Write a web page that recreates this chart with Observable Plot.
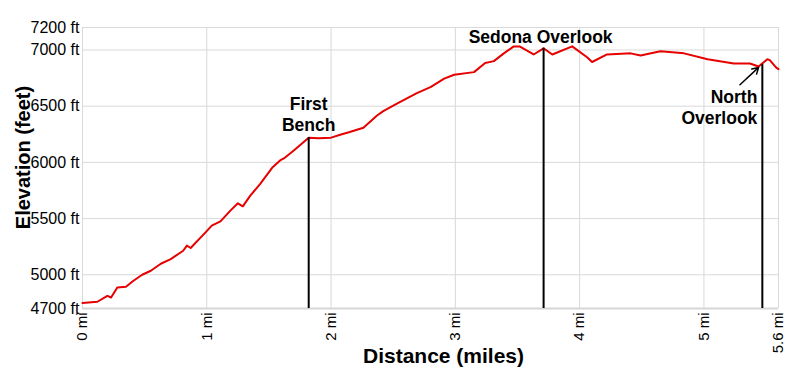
<!DOCTYPE html>
<html>
<head>
<meta charset="utf-8">
<script src="https://cdn.jsdelivr.net/npm/d3@7"></script>
<script src="https://cdn.jsdelivr.net/npm/@observablehq/plot@0.6"></script>
<style>
  html, body { margin: 0; padding: 0; background: #fff; }
  #chart svg { font-family: 'Liberation Sans', Arial, Helvetica, sans-serif; }
</style>
</head>
<body>
<div id="chart"></div>
<script>
const distMi = [0,0.12,0.2,0.23,0.28,0.35,0.41,0.48,0.55,0.63,0.71,0.81,0.84,0.87,0.99,1.04,1.11,1.19,1.25,1.29,1.35,1.43,1.53,1.59,1.62,1.70,1.82,1.90,2.0,2.08,2.15,2.26,2.37,2.42,2.53,2.69,2.80,2.91,2.99,3.15,3.24,3.31,3.39,3.47,3.52,3.63,3.71,3.78,3.94,4.06,4.10,4.22,4.41,4.49,4.65,4.84,5.03,5.24,5.37,5.44,5.51,5.53,5.58,5.6];
const elevFt = [4750,4760,4813,4798,4887,4893,4947,5000,5036,5098,5140,5214,5259,5238,5377,5437,5475,5571,5636,5609,5704,5809,5957,6017,6035,6105,6220,6215,6220,6248,6270,6308,6417,6456,6522,6616,6670,6745,6780,6803,6884,6901,6970,7032,7030,6960,7015,6960,7032,6935,6893,6960,6970,6950,6988,6970,6917,6880,6880,6853,6917,6910,6845,6830];

const xTicks = [0, 1, 2, 3, 4, 5, 5.6];
const yTicks = [4700, 5000, 5500, 6000, 6500, 7000, 7200];

const poiNames = ["First\nBench", "Sedona Overlook", "North\nOverlook"];
const poiDist = [1.82, 3.71, 5.47];
const poiElev = [6220, 7015, 6870];

const arrowFrom = [5.29, 6690];
const arrowTo = [5.44, 6845];

const xTitle = ["Distance (miles)"];
const yTitle = ["Elevation (feet)"];

const profile = distMi.map((d, i) => ({d, e: elevFt[i]}));
const pois = poiNames.map((name, i) => ({name, d: poiDist[i], e: poiElev[i]}));
const arrows = [{x1: arrowFrom[0], y1: arrowFrom[1], x2: arrowTo[0], y2: arrowTo[1]}];

const chart = Plot.plot({
  width: 800,
  height: 375,
  marginTop: 27,
  marginBottom: 67,
  marginLeft: 82,
  marginRight: 22,
  style: "font-family: 'Liberation Sans', Arial, Helvetica, sans-serif; font-size: 15px; color: #000; background: #fff;",
  x: {domain: [0, 5.6], axis: null},
  y: {domain: [4700, 7200]},
  marks: [
    Plot.ruleX(xTicks, {stroke: "#d9d9d9", strokeWidth: 1}),
    Plot.ruleY(yTicks, {stroke: "#d9d9d9", strokeWidth: 1}),
    Plot.ruleY([4700], {stroke: "#d6d6d6", strokeWidth: 2}),
    Plot.text(xTicks, {x: d => d, frameAnchor: "bottom", text: d => `${d} mi`, rotate: -90, textAnchor: "end", lineAnchor: "middle", dy: 4, fontSize: 15, fill: "#000"}),
    Plot.axisY({ticks: yTicks, tickFormat: d => `${d} ft`, tickSize: 0, tickPadding: 3, label: null, fontSize: 16}),
    Plot.line(profile, {x: "d", y: "e", stroke: "#e60000", strokeWidth: 2}),
    Plot.ruleX(pois, {x: "d", y1: 4700, y2: "e", stroke: "#000", strokeWidth: 2}),
    Plot.text(pois.filter((p, i) => i === 0), {x: "d", y: "e", text: "name", lineAnchor: "bottom", textAnchor: "middle", dy: -7, fontSize: 17.5, fontWeight: "bold", lineHeight: 1.2, fill: "#000"}),
    Plot.text(pois.filter((p, i) => i === 1), {x: "d", y: "e", text: "name", lineAnchor: "bottom", textAnchor: "middle", dx: -3, dy: -5, fontSize: 17.5, fontWeight: "bold", fill: "#000"}),
    Plot.text(pois.filter((p, i) => i === 2), {x: "d", y: "e", text: "name", lineAnchor: "top", textAnchor: "end", dx: -5, dy: 23, fontSize: 17.5, fontWeight: "bold", lineHeight: 1.22, fill: "#000"}),
    Plot.arrow(arrows, {x1: "x1", y1: "y1", x2: "x2", y2: "y2", stroke: "#000", strokeWidth: 1.5, headLength: 7}),
    Plot.text(xTitle, {frameAnchor: "bottom", text: d => d, textAnchor: "middle", lineAnchor: "middle", dx: 13, dy: 48, fontSize: 21, fontWeight: "bold", fill: "#000"}),
    Plot.text(yTitle, {frameAnchor: "left", text: d => d, rotate: -90, textAnchor: "middle", lineAnchor: "middle", dx: -59, dy: -10.5, fontSize: 20, fontWeight: "bold", fill: "#000"})
  ]
});
document.getElementById("chart").appendChild(chart);
</script>
</body>
</html>
